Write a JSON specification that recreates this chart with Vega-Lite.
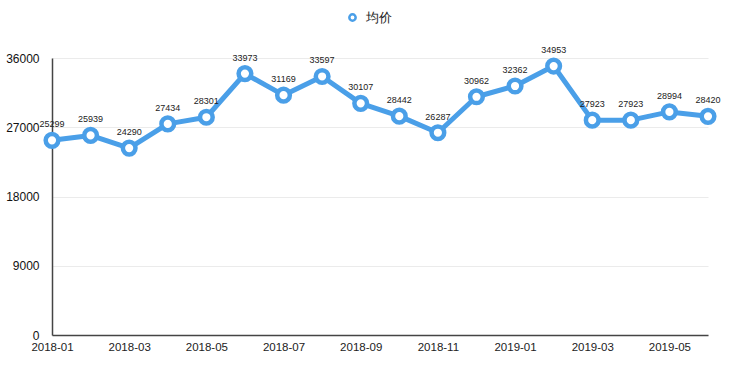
{
  "$schema": "https://vega.github.io/schema/vega-lite/v6.json",
  "width": 656,
  "height": 277,
  "autosize": "none",
  "padding": {"left": 52, "top": 58, "right": 32, "bottom": 42},
  "background": "white",
  "config": {
    "view": {"stroke": null},
    "font": "Liberation Sans"
  },
  "data": {
    "values": [
      {"month": "2018-01", "price": 25299, "series": "均价"},
      {"month": "2018-02", "price": 25939, "series": "均价"},
      {"month": "2018-03", "price": 24290, "series": "均价"},
      {"month": "2018-04", "price": 27434, "series": "均价"},
      {"month": "2018-05", "price": 28301, "series": "均价"},
      {"month": "2018-06", "price": 33973, "series": "均价"},
      {"month": "2018-07", "price": 31169, "series": "均价"},
      {"month": "2018-08", "price": 33597, "series": "均价"},
      {"month": "2018-09", "price": 30107, "series": "均价"},
      {"month": "2018-10", "price": 28442, "series": "均价"},
      {"month": "2018-11", "price": 26287, "series": "均价"},
      {"month": "2018-12", "price": 30962, "series": "均价"},
      {"month": "2019-01", "price": 32362, "series": "均价"},
      {"month": "2019-02", "price": 34953, "series": "均价"},
      {"month": "2019-03", "price": 27923, "series": "均价"},
      {"month": "2019-04", "price": 27923, "series": "均价"},
      {"month": "2019-05", "price": 28994, "series": "均价"},
      {"month": "2019-06", "price": 28420, "series": "均价"}
    ]
  },
  "encoding": {
    "x": {
      "field": "month",
      "type": "ordinal",
      "sort": null,
      "scale": {"type": "point", "padding": 0},
      "axis": {
        "title": null,
        "values": ["2018-01", "2018-03", "2018-05", "2018-07", "2018-09", "2018-11", "2019-01", "2019-03", "2019-05"],
        "labelAngle": 0,
        "labelFontSize": 11.5,
        "labelColor": "#222",
        "labelPadding": 6,
        "ticks": false,
        "grid": false,
        "domainColor": "#444",
        "domainWidth": 1.5
      }
    },
    "y": {
      "field": "price",
      "type": "quantitative",
      "scale": {"domain": [0, 36000], "nice": false},
      "axis": {
        "title": null,
        "format": "d",
        "values": [0, 9000, 18000, 27000, 36000],
        "labelFontSize": 12,
        "labelColor": "#111",
        "labelPadding": 13,
        "ticks": false,
        "gridColor": "#ebebeb",
        "gridWidth": 1,
        "domainColor": "#444",
        "domainWidth": 1.5
      }
    }
  },
  "layer": [
    {
      "mark": {"type": "line", "strokeWidth": 5, "strokeJoin": "round"},
      "encoding": {
        "color": {
          "field": "series",
          "type": "nominal",
          "scale": {"range": ["#4a9fe8"]},
          "legend": {
            "title": null,
            "orient": "none",
            "legendX": 294,
            "legendY": -47,
            "symbolType": "circle",
            "symbolSize": 40,
            "symbolStrokeWidth": 2.5,
            "symbolFillColor": "white",
            "labelFontSize": 13,
            "labelColor": "#222",
            "labelOffset": 7
          }
        }
      }
    },
    {
      "mark": {"type": "point", "shape": "circle", "size": 160, "filled": true, "fill": "white", "stroke": "#4a9fe8", "strokeWidth": 4.5, "opacity": 1}
    },
    {
      "mark": {"type": "text", "dy": -16, "fontSize": 9, "color": "#222"},
      "encoding": {"text": {"field": "price", "type": "quantitative", "format": "d"}}
    }
  ]
}
